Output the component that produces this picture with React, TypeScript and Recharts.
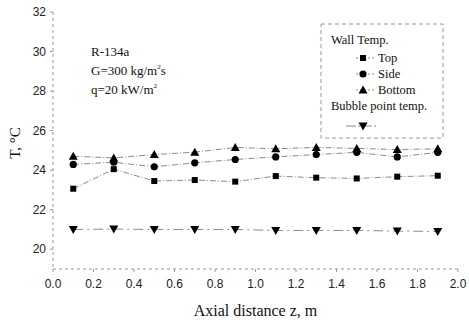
import React from 'react';
import { LineChart, Line, XAxis, YAxis } from 'recharts';

const zValues = [0.1, 0.3, 0.5, 0.7, 0.9, 1.1, 1.3, 1.5, 1.7, 1.9];
const topTemp = [23.06, 24.05, 23.45, 23.5, 23.42, 23.7, 23.62, 23.58, 23.67, 23.72];
const sideTemp = [24.29, 24.4, 24.17, 24.37, 24.54, 24.67, 24.79, 24.9, 24.67, 24.9];
const bottomTemp = [24.7, 24.62, 24.79, 24.91, 25.15, 25.08, 25.15, 25.1, 25.04, 25.08];
const bubbleTemp = [21.0, 21.02, 21.0, 21.0, 21.0, 20.95, 20.95, 20.95, 20.92, 20.9];
const xTicks = [0, 0.2, 0.4, 0.6, 0.8, 1.0, 1.2, 1.4, 1.6, 1.8, 2.0];
const yTicks = [20, 22, 24, 26, 28, 30, 32];

const data = zValues.map((z, i) => ({
  z,
  top: topTemp[i],
  side: sideTemp[i],
  bottom: bottomTemp[i],
  bubble: bubbleTemp[i],
}));

const SERIF = '"Liberation Serif", "DejaVu Serif", serif';
const SANS = '"Liberation Sans", Arial, sans-serif';
const LINE = '#8a8a8a';
const DASH = '6 2 1 2';

const Square = (p: any) => (p.cx == null ? null : <rect x={p.cx - 3} y={p.cy - 3} width={6} height={6} fill="#000" />);
const Circle = (p: any) => (p.cx == null ? null : <circle cx={p.cx} cy={p.cy} r={3.6} fill="#000" />);
const TriUp = (p: any) =>
  p.cx == null ? null : <polygon points={`${p.cx - 4.5},${p.cy + 3.5} ${p.cx + 4.5},${p.cy + 3.5} ${p.cx},${p.cy - 4.5}`} fill="#000" />;
const TriDown = (p: any) =>
  p.cx == null ? null : <polygon points={`${p.cx - 4.5},${p.cy - 3.5} ${p.cx + 4.5},${p.cy - 3.5} ${p.cx},${p.cy + 4.5}`} fill="#000" />;

const tickStyle = { fontFamily: SANS, fontSize: 12, fill: '#222' };

export default function App() {
  return (
    <div style={{ position: 'absolute', left: 0, top: 0, width: 469, height: 323, background: '#fff' }}>
      <LineChart width={469} height={323} data={data} margin={{ top: 12, right: 11, bottom: 0, left: 0 }}>
        <XAxis
          xAxisId="b"
          dataKey="z"
          type="number"
          domain={[0, 2]}
          ticks={xTicks}
          tickFormatter={(v: number) => v.toFixed(1)}
          interval={0}
          tick={tickStyle}
          tickSize={3}
          tickMargin={7}
          height={54}
          axisLine={{ stroke: '#999', strokeDasharray: '3 3' }}
          tickLine={{ stroke: '#999' }}
          label={{ value: 'Axial distance z, m', position: 'insideBottom', offset: 7, style: { fontFamily: SERIF, fontSize: 16, fill: '#111' } }}
        />
        <XAxis
          xAxisId="t"
          orientation="top"
          dataKey="z"
          type="number"
          domain={[0, 2]}
          ticks={xTicks}
          tick={false}
          height={0}
          tickSize={-3}
          axisLine={{ stroke: '#999', strokeDasharray: '4 3' }}
          tickLine={{ stroke: '#aaa' }}
        />
        <YAxis
          yAxisId="l"
          type="number"
          domain={[19, 32]}
          ticks={yTicks}
          interval={0}
          width={53}
          tick={tickStyle}
          tickSize={3}
          tickMargin={4}
          axisLine={{ stroke: '#999', strokeDasharray: '3 3' }}
          tickLine={{ stroke: '#999' }}
        />
        <YAxis
          yAxisId="r"
          orientation="right"
          type="number"
          domain={[19, 32]}
          ticks={yTicks}
          tick={false}
          width={0}
          tickSize={-2}
          axisLine={{ stroke: '#aaa', strokeDasharray: '2 4' }}
          tickLine={{ stroke: '#999' }}
        />
        <Line xAxisId="b" yAxisId="l" dataKey="top" stroke={LINE} strokeWidth={1} strokeDasharray={DASH} dot={<Square />} isAnimationActive={false} />
        <Line xAxisId="b" yAxisId="l" dataKey="side" stroke={LINE} strokeWidth={1} strokeDasharray={DASH} dot={<Circle />} isAnimationActive={false} />
        <Line xAxisId="b" yAxisId="l" dataKey="bottom" stroke={LINE} strokeWidth={1} strokeDasharray={DASH} dot={<TriUp />} isAnimationActive={false} />
        <Line xAxisId="b" yAxisId="l" dataKey="bubble" stroke={LINE} strokeWidth={1} strokeDasharray="10 4 2 4" dot={<TriDown />} isAnimationActive={false} />
      </LineChart>
      <svg width={469} height={323} style={{ position: 'absolute', left: 0, top: 0, pointerEvents: 'none' }}>
        <text x={15} y={143} transform="rotate(-90 15 143)" textAnchor="middle" dominantBaseline="central" fontFamily={SERIF} fontSize={15} fill="#111">
          T, °C
        </text>
        <g fontFamily={SERIF} fontSize={13} fill="#111">
          <text x={91} y={56}>R-134a</text>
          <text x={91} y={75}>
            G=300 kg/m<tspan fontSize={7} dy={-6}>2</tspan>
            <tspan dy={6}>s</tspan>
          </text>
          <text x={91} y={94}>
            q=20 kW/m<tspan fontSize={7} dy={-6}>2</tspan>
          </text>
        </g>
        <g>
          <rect x={321} y={24} width={122} height={114} fill="#fff" stroke="#999" strokeDasharray="4 3" strokeWidth={1} />
          <g fontFamily={SERIF} fontSize={12.5} fill="#111">
            <text x={331} y={44}>Wall Temp.</text>
            <text x={378} y={62}>Top</text>
            <text x={378} y={78}>Side</text>
            <text x={378} y={94}>Bottom</text>
            <text x={331} y={110}>Bubble point temp.</text>
          </g>
          <line x1={356} x2={374} y1={58} y2={58} stroke={LINE} strokeDasharray="2 2" />
          <line x1={356} x2={374} y1={74} y2={74} stroke={LINE} strokeDasharray="2 2" />
          <line x1={356} x2={374} y1={90} y2={90} stroke={LINE} strokeDasharray="2 2" />
          <line x1={346} x2={378} y1={126} y2={126} stroke={LINE} strokeDasharray="10 2 2 2" />
          <Square cx={363} cy={58} />
          <Circle cx={363} cy={74} />
          <TriUp cx={363} cy={90} />
          <TriDown cx={363} cy={126} />
        </g>
      </svg>
    </div>
  );
}
